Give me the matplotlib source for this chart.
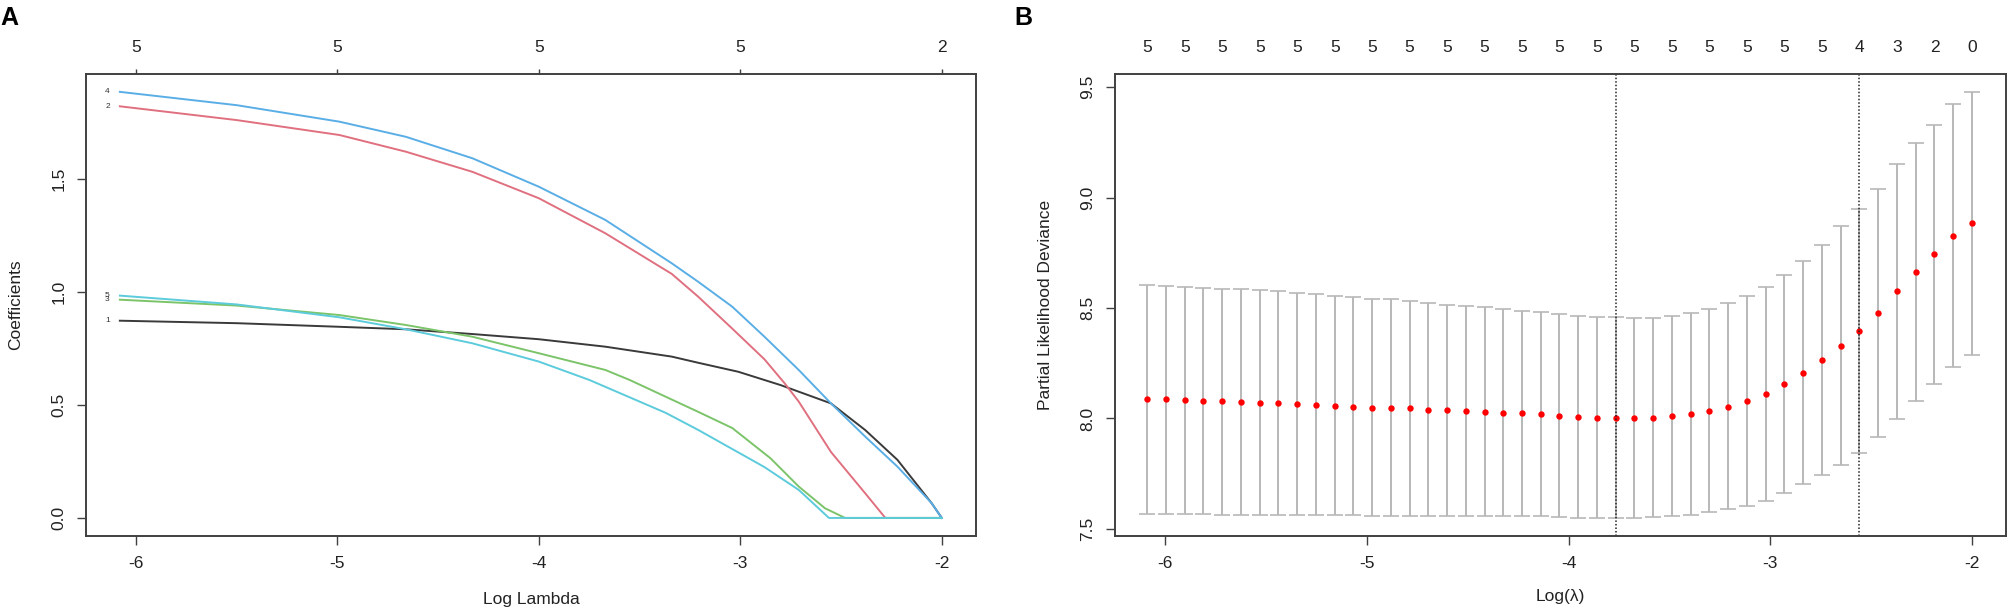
import matplotlib
matplotlib.use("Agg")
import matplotlib.pyplot as plt

plt.rcParams['font.family'] = ['Liberation Sans', 'DejaVu Sans']

# ---- panel A: coefficient paths (log lambda, coefficient) ----
x1 = [-6.08, -5.5, -4.99, -4.66, -4.33, -4.0, -3.67, -3.34, -3.21, -3.01, -2.8, -2.55, -2.38, -2.22, -2.05, -2.0]
y1 = [0.873, 0.862, 0.846, 0.835, 0.814, 0.791, 0.758, 0.714, 0.687, 0.647, 0.588, 0.507, 0.389, 0.257, 0.065, 0.0]

x2 = [-6.08, -5.5, -4.99, -4.66, -4.33, -4.0, -3.67, -3.34, -3.21, -3.04, -2.88, -2.78, -2.71, -2.55, -2.38, -2.28, -2.0]
y2 = [1.822, 1.761, 1.695, 1.621, 1.532, 1.415, 1.260, 1.080, 0.980, 0.838, 0.702, 0.596, 0.515, 0.292, 0.109, 0.0, 0.0]

x3 = [-6.08, -5.5, -4.99, -4.66, -4.33, -4.0, -3.67, -3.55, -3.21, -3.04, -2.85, -2.71, -2.58, -2.48, -2.0]
y3 = [0.966, 0.94, 0.898, 0.854, 0.802, 0.729, 0.655, 0.611, 0.470, 0.398, 0.264, 0.139, 0.043, 0.0, 0.0]

x4 = [-6.08, -5.5, -4.99, -4.66, -4.33, -4.0, -3.67, -3.34, -3.21, -3.04, -2.88, -2.71, -2.55, -2.38, -2.22, -2.05, -2.0]
y4 = [1.886, 1.827, 1.754, 1.687, 1.592, 1.466, 1.319, 1.127, 1.046, 0.935, 0.802, 0.655, 0.507, 0.360, 0.227, 0.065, 0.0]

x5 = [-6.08, -5.5, -4.99, -4.66, -4.33, -4.0, -3.75, -3.37, -3.21, -3.04, -2.88, -2.71, -2.56, -2.0]
y5 = [0.984, 0.945, 0.888, 0.835, 0.773, 0.692, 0.611, 0.465, 0.390, 0.305, 0.225, 0.124, 0.0, 0.0]

path_colors = ['#3a3a3a', '#e0707f', '#7cc46a', '#5aaee6', '#5ccbdc']
path_names = ['1', '2', '3', '4', '5']
top_ticks_a = [-6, -5, -4, -3, -2]
top_labels_a = ['5', '5', '5', '5', '2']

# ---- panel B: cross-validation curve ----
log_lambda = [-6.090, -5.997, -5.904, -5.811, -5.718, -5.625, -5.532, -5.439, -5.346, -5.253,
              -5.160, -5.068, -4.975, -4.882, -4.789, -4.696, -4.603, -4.510, -4.417, -4.324,
              -4.231, -4.138, -4.045, -3.952, -3.859, -3.766, -3.673, -3.580, -3.487, -3.394,
              -3.301, -3.208, -3.115, -3.022, -2.929, -2.836, -2.743, -2.650, -2.557, -2.464,
              -2.371, -2.278, -2.185, -2.092, -2.000]
cvm = [8.088, 8.088, 8.082, 8.077, 8.077, 8.074, 8.070, 8.070, 8.065, 8.061,
       8.058, 8.053, 8.049, 8.046, 8.046, 8.040, 8.037, 8.032, 8.028, 8.023,
       8.023, 8.019, 8.012, 8.007, 8.004, 8.004, 8.004, 8.004, 8.012, 8.019,
       8.032, 8.053, 8.079, 8.112, 8.154, 8.205, 8.263, 8.326, 8.398, 8.479,
       8.575, 8.663, 8.744, 8.828, 8.886]
cvup = [8.605, 8.598, 8.595, 8.591, 8.588, 8.584, 8.581, 8.577, 8.567, 8.563,
        8.556, 8.549, 8.542, 8.539, 8.532, 8.521, 8.514, 8.511, 8.504, 8.496,
        8.488, 8.482, 8.475, 8.465, 8.461, 8.458, 8.456, 8.456, 8.465, 8.477,
        8.495, 8.521, 8.556, 8.595, 8.649, 8.712, 8.786, 8.870, 8.949, 9.040,
        9.151, 9.247, 9.330, 9.421, 9.477]
cvlo = [7.568, 7.568, 7.568, 7.568, 7.565, 7.565, 7.565, 7.565, 7.561, 7.561,
        7.561, 7.561, 7.558, 7.558, 7.558, 7.558, 7.558, 7.558, 7.558, 7.558,
        7.558, 7.558, 7.554, 7.551, 7.551, 7.549, 7.549, 7.554, 7.558, 7.561,
        7.575, 7.588, 7.605, 7.628, 7.663, 7.702, 7.742, 7.789, 7.844, 7.914,
        7.998, 8.079, 8.154, 8.232, 8.289]
nzero_labels = ['5'] * 19 + ['4', '3', '2', '0']
lambda_min = -3.766
lambda_1se = -2.557

fs = 12.5
axis_col = '#404040'

fig = plt.figure(figsize=(20.08, 6.08), dpi=100)
axA = fig.add_axes([86 / 2008, 1 - 536 / 608, 890 / 2008, 462 / 608])
axB = fig.add_axes([1115 / 2008, 1 - 536 / 608, 891 / 2008, 462 / 608])


def style_axes(ax):
    for s in ax.spines.values():
        s.set_color(axis_col)
        s.set_linewidth(1.4)
    ax.tick_params(axis='both', direction='out', length=6.5, width=1.0,
                   color=axis_col, labelsize=fs, labelcolor='#222222', pad=8)
    ax.tick_params(axis='y', labelrotation=90, pad=7.5)
    for lab in ax.get_yticklabels():
        lab.set_va('center')


# panel A
for xs, ys, c in zip([x1, x2, x3, x4, x5], [y1, y2, y3, y4, y5], path_colors):
    axA.plot(xs, ys, color=c, lw=1.4)
for xs, ys, name in zip([x1, x2, x3, x4, x5], [y1, y2, y3, y4, y5], path_names):
    axA.text(xs[0] - 0.05, ys[0], name, fontsize=6, ha='right', va='center', color='#333333')
axA.set_xlim(-6.248, -1.83)
axA.set_ylim(-0.08, 1.965)
axA.set_xticks([-6, -5, -4, -3, -2])
axA.set_yticks([0.0, 0.5, 1.0, 1.5])
axA.set_xticklabels(['-6', '-5', '-4', '-3', '-2'])
axA.set_yticklabels(['0.0', '0.5', '1.0', '1.5'])
style_axes(axA)
axA.set_xlabel('Log Lambda', fontsize=fs, color='#222222')
axA.set_ylabel('Coefficients', fontsize=fs, color='#222222')
axA.xaxis.set_label_coords(0.5, -0.122)
axA.yaxis.set_label_coords(-0.071, 0.5)

topA = axA.twiny()
topA.set_xlim(axA.get_xlim())
topA.set_xticks(top_ticks_a)
topA.set_xticklabels(top_labels_a)
topA.tick_params(axis='x', direction='out', length=3.6, width=1.0, color=axis_col,
                 labelsize=fs, labelcolor='#222222', pad=10.4)
for s in topA.spines.values():
    s.set_visible(False)

# panel B
axB.errorbar(log_lambda, cvm,
             yerr=[[m - lo for m, lo in zip(cvm, cvlo)], [up - m for m, up in zip(cvm, cvup)]],
             fmt='none', ecolor='#b8b8b8', elinewidth=1.4, capsize=6, capthick=1.2)
axB.plot(log_lambda, cvm, 'o', color='#ff0000', markersize=4.6, markeredgewidth=0)
axB.axvline(lambda_min, color='#222222', ls=(0, (1, 1.3)), lw=1.1)
axB.axvline(lambda_1se, color='#222222', ls=(0, (1, 1.3)), lw=1.1)
axB.set_xlim(-6.25, -1.83)
axB.set_ylim(7.468, 9.559)
axB.set_xticks([-6, -5, -4, -3, -2])
axB.set_xticklabels(['-6', '-5', '-4', '-3', '-2'])
axB.set_yticks([7.5, 8.0, 8.5, 9.0, 9.5])
axB.set_yticklabels(['7.5', '8.0', '8.5', '9.0', '9.5'])
style_axes(axB)
axB.set_xlabel('Log(\u03bb)', fontsize=fs, color='#222222')
axB.set_ylabel('Partial Likelihood Deviance', fontsize=fs, color='#222222')
axB.xaxis.set_label_coords(0.5, -0.115)
axB.yaxis.set_label_coords(-0.07, 0.5)

topB = axB.twiny()
topB.set_xlim(axB.get_xlim())
topB.set_xticks(log_lambda[::2])
topB.set_xticklabels(nzero_labels)
topB.tick_params(axis='x', length=0, labelsize=fs, labelcolor='#222222', pad=14)
for s in topB.spines.values():
    s.set_visible(False)

fig.text(0.0, 1 - 6 / 608, 'A', fontsize=18, fontweight='bold', ha='left', va='top')
fig.text(1014 / 2008, 1 - 6 / 608, 'B', fontsize=18, fontweight='bold', ha='left', va='top')

fig.savefig('out.png', dpi=100)
